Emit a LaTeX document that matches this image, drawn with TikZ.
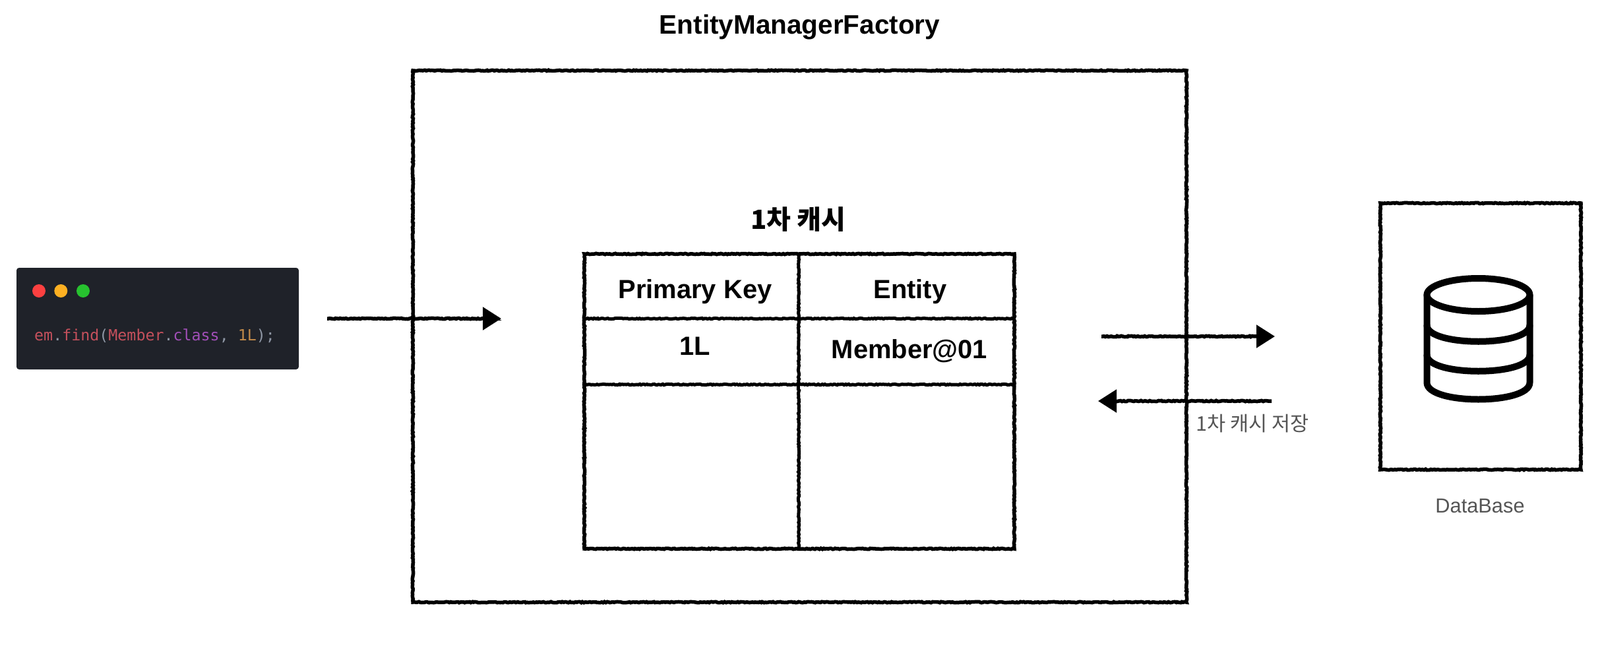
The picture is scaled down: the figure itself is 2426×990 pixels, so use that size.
\documentclass[tikz,border=0pt]{standalone}
\usepackage{fontspec}
\setmainfont{Liberation Sans}
\setmonofont{DejaVu Sans Mono}
\newfontfamily\krfont{Noto Sans CJK KR}
\usetikzlibrary{arrows.meta,decorations.pathmorphing}
\definecolor{codebg}{HTML}{1F2229}
\definecolor{codered}{HTML}{C4505C}
\definecolor{codegray}{HTML}{8F97A5}
\definecolor{codepurple}{HTML}{A24FB8}
\definecolor{codeorange}{HTML}{C18A4A}
\definecolor{labelgray}{HTML}{555555}
\newcommand{\fsz}[1]{\fontsize{#1}{#1}\selectfont}
\tikzset{
  x=1pt,y=-1pt,
  rough/.style={decorate,decoration={random steps,segment length=2.2pt,amplitude=0.7pt}},
  sketchbox/.style={draw=black,line width=5.5pt,rough,inner sep=0pt,outer sep=0pt,rectangle},
  sketchline/.style={draw=black,line width=5pt,rough},
  sketcharrow/.style={draw=black,line width=5.5pt,
    decorate,decoration={random steps,segment length=2.2pt,amplitude=0.7pt,pre=lineto,pre length=2pt,post=lineto,post length=12pt},
    -{Triangle[length=28pt,width=34pt]}},
  boldtext/.style={anchor=base,inner sep=0pt,font=\bfseries\fsz{39.9}},
  graytext/.style={anchor=base,inner sep=0pt,text=labelgray},
  winbtn/.style={circle,inner sep=0pt,minimum size=20pt},
  dbline/.style={draw=black,line width=10pt,line cap=round,line join=round}
}
\begin{document}
\begin{tikzpicture}
\useasboundingbox (0,0) rectangle (2426,990);
\fill[white] (0,0) rectangle (2426,990);

% Title
\node[boldtext,font=\bfseries\fsz{40.5}] (title) at (1212.5,52) {EntityManagerFactory};

% Code window
\node[fill=codebg,rounded corners=4pt,minimum width=428pt,minimum height=154pt,inner sep=0pt] (code) at (239,483) {};
\node[winbtn,fill={rgb,255:red,252;green,64;blue,64}] (btnr) at (59,441) {};
\node[winbtn,fill={rgb,255:red,253;green,176;blue,34}] (btny) at (92.3,441) {};
\node[winbtn,fill={rgb,255:red,39;green,194;blue,47}] (btng) at (126,441) {};
\node[anchor=base west,inner sep=0pt,font=\ttfamily\fsz{23.3},text=codegray] (codetext) at (52,516)
 {\textcolor{codered}{em}.\textcolor{codered}{find}(\textcolor{codered}{Member}.\textcolor{codepurple}{class}, \textcolor{codeorange}{1L});};

% Main box
\node[sketchbox,minimum width=1173pt,minimum height=806pt] (main) at (1212.5,510) {};

% Table
\node[boldtext,font=\bfseries\krfont\fsz{40}] (cachetitle) at (1210.5,347) {1차 캐시};
\node[sketchbox,minimum width=652pt,minimum height=447pt] (table) at (1212,608.5) {};
\coordinate (c1t) at (1211,385);
\coordinate (c1b) at (1211,832);
\coordinate (r1l) at (886,483);
\coordinate (r1r) at (1538,483);
\coordinate (r2l) at (886,583);
\coordinate (r2r) at (1538,583);
\draw[sketchline] (c1t) -- (c1b);
\draw[sketchline] (r1l) -- (r1r);
\draw[sketchline] (r2l) -- (r2r);
\node[boldtext] (pk) at (1054,452) {Primary Key};
\node[boldtext] (ent) at (1380,452) {Entity};
\node[boldtext] (onel) at (1054,538) {1L};
\node[boldtext] (mem) at (1379,543) {Member@01};

% Arrows
\coordinate (a1s) at (496,483);
\coordinate (a1e) at (760,483);
\coordinate (a2s) at (1670,510);
\coordinate (a2e) at (1933,510);
\coordinate (a3s) at (1928,608);
\coordinate (a3e) at (1665,608);
\draw[sketcharrow] (a1s) -- (a1e);
\draw[sketcharrow] (a2s) -- (a2e);
\draw[sketcharrow] (a3s) -- (a3e);
\node[graytext,font=\krfont\fsz{30.6}] (savelabel) at (1899,653) {1차 캐시 저장};

% Database
\node[sketchbox,minimum width=304pt,minimum height=404pt] (db) at (2245,510) {};
\node[graytext,font=\fsz{30.8}] (dblabel) at (2244,777) {DataBase};
\draw[dbline] (2241.5,447) ellipse [x radius=78pt,y radius=25pt];
\draw[dbline] (2163.5,447) -- (2163.5,580) .. controls (2163.5,614) and (2319.5,614) .. (2319.5,580) -- (2319.5,447);
\draw[dbline] (2163.5,493) .. controls (2163.5,526) and (2319.5,526) .. (2319.5,493);
\draw[dbline] (2163.5,538) .. controls (2163.5,571) and (2319.5,571) .. (2319.5,538);
\end{tikzpicture}
\end{document}
